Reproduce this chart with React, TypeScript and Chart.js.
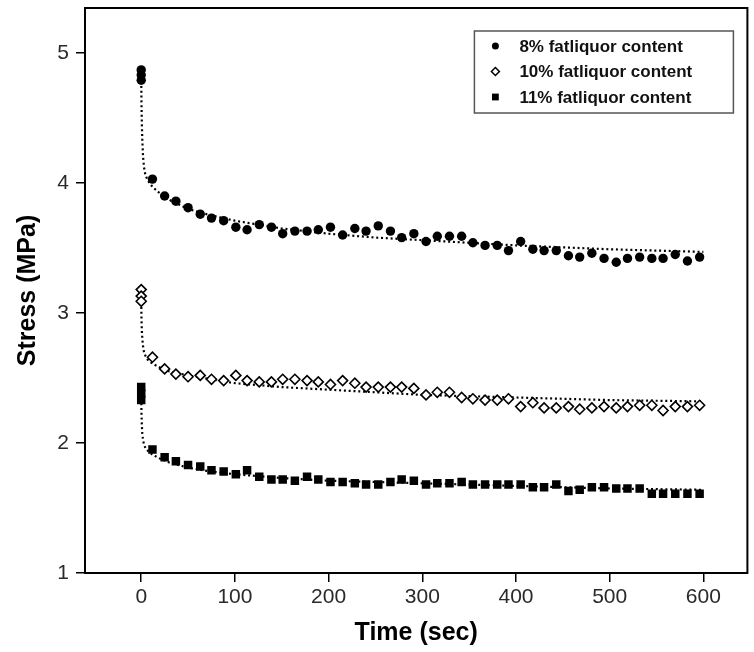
import React, { useEffect, useRef } from 'react';
import { Chart, registerables } from 'chart.js';

Chart.register(...registerables);

// ---- data ----
const times = [12, 25, 37, 50, 63, 75, 88, 101, 113, 126, 139, 151, 164, 177, 189, 202, 215, 228, 240, 253, 266, 278, 291, 304, 316, 329, 342, 354, 367, 380, 392, 405, 418, 430, 443, 456, 468, 481, 494, 507, 519, 532, 545, 557, 570, 583, 596];

const stress8 = [4.03, 3.90, 3.86, 3.81, 3.76, 3.73, 3.71, 3.66, 3.64, 3.68, 3.66, 3.61, 3.63, 3.63, 3.64, 3.66, 3.60, 3.65, 3.63, 3.67, 3.63, 3.58, 3.61, 3.55, 3.59, 3.59, 3.59, 3.54, 3.52, 3.52, 3.48, 3.55, 3.49, 3.48, 3.48, 3.44, 3.43, 3.46, 3.42, 3.39, 3.42, 3.43, 3.42, 3.42, 3.45, 3.40, 3.43];
const stress10 = [2.66, 2.57, 2.53, 2.51, 2.52, 2.49, 2.48, 2.52, 2.48, 2.47, 2.47, 2.49, 2.49, 2.48, 2.47, 2.45, 2.48, 2.46, 2.43, 2.43, 2.43, 2.43, 2.42, 2.37, 2.39, 2.39, 2.35, 2.34, 2.33, 2.33, 2.34, 2.28, 2.31, 2.27, 2.27, 2.28, 2.26, 2.27, 2.28, 2.27, 2.28, 2.29, 2.29, 2.25, 2.28, 2.28, 2.29];
const stress11 = [1.95, 1.89, 1.86, 1.83, 1.82, 1.79, 1.78, 1.76, 1.79, 1.74, 1.72, 1.72, 1.71, 1.74, 1.72, 1.70, 1.70, 1.69, 1.68, 1.68, 1.70, 1.72, 1.71, 1.68, 1.69, 1.69, 1.70, 1.68, 1.68, 1.68, 1.68, 1.68, 1.66, 1.66, 1.68, 1.63, 1.64, 1.66, 1.66, 1.65, 1.65, 1.65, 1.61, 1.61, 1.61, 1.61, 1.61];

// repeated readings at t = 0
const start8 = [4.87, 4.83, 4.79];
const start10 = [3.18, 3.13, 3.09];
const start11 = [2.43, 2.38, 2.33];

// dotted fitted curves
const fitTimes = [0, 0.3, 0.7, 1.2, 2, 3, 4.5, 7, 12, 20, 30, 50, 75, 100, 150, 200, 250, 300, 400, 500, 600];
const fit8 = [4.82, 4.6, 4.45, 4.32, 4.2, 4.12, 4.06, 4.02, 3.97, 3.92, 3.87, 3.8, 3.75, 3.71, 3.65, 3.61, 3.58, 3.56, 3.52, 3.49, 3.47];
const fit10 = [3.12, 2.95, 2.86, 2.8, 2.74, 2.7, 2.67, 2.64, 2.61, 2.58, 2.55, 2.52, 2.49, 2.46, 2.43, 2.41, 2.39, 2.37, 2.35, 2.33, 2.32];
const fit11 = [2.38, 2.22, 2.13, 2.07, 2.02, 1.99, 1.96, 1.94, 1.91, 1.88, 1.85, 1.81, 1.78, 1.76, 1.73, 1.71, 1.7, 1.69, 1.67, 1.65, 1.64];

const xTicks = [0, 100, 200, 300, 400, 500, 600];
const yTicks = [1, 2, 3, 4, 5];
const seriesLabels = ['8% fatliquor content', '10% fatliquor content', '11% fatliquor content'];
const xTitle = 'Time (sec)';
const yTitle = 'Stress (MPa)';

const FONT = '"Liberation Sans", Arial, Helvetica, sans-serif';

function toPoints(xs: number[], ys: number[]) {
  return ys.map((y, i) => ({ x: xs[i], y }));
}
function startPoints(ys: number[]) {
  return ys.map((y) => ({ x: 0, y }));
}

function zeroPadding(s: any) {
  s.paddingTop = 0;
  s.paddingBottom = 0;
  s.paddingLeft = 0;
  s.paddingRight = 0;
}

const framePlugin = {
  id: 'frameBox',
  afterDraw(chart: any) {
    const { ctx, chartArea } = chart;
    ctx.save();
    ctx.strokeStyle = '#000';
    ctx.lineWidth = 2;
    ctx.strokeRect(chartArea.left, chartArea.top, chartArea.right - chartArea.left, chartArea.bottom - chartArea.top);
    ctx.restore();
  },
};

const legendPlugin = {
  id: 'boxLegend',
  afterDraw(chart: any) {
    const { ctx, chartArea } = chart;
    const w = 259;
    const h = 82;
    const x0 = chartArea.right - 14 - w;
    const y0 = chartArea.top + 23;
    ctx.save();
    ctx.strokeStyle = '#555';
    ctx.lineWidth = 1.5;
    ctx.strokeRect(x0, y0, w, h);
    ctx.font = 'bold 17px ' + FONT;
    ctx.textBaseline = 'middle';
    ctx.textAlign = 'left';
    seriesLabels.forEach((label, i) => {
      const cy = y0 + 15 + i * 25.5;
      const mx = x0 + 21;
      ctx.fillStyle = '#000';
      ctx.strokeStyle = '#000';
      if (i === 0) {
        ctx.beginPath();
        ctx.arc(mx, cy, 3.5, 0, Math.PI * 2);
        ctx.fill();
      } else if (i === 1) {
        ctx.beginPath();
        ctx.moveTo(mx, cy - 4);
        ctx.lineTo(mx + 4, cy);
        ctx.lineTo(mx, cy + 4);
        ctx.lineTo(mx - 4, cy);
        ctx.closePath();
        ctx.fillStyle = '#fff';
        ctx.fill();
        ctx.lineWidth = 1.5;
        ctx.stroke();
      } else {
        ctx.fillRect(mx - 3.4, cy - 3.4, 6.8, 6.8);
      }
      ctx.fillStyle = '#111';
      ctx.fillText(label, x0 + 45, cy + 1);
    });
    ctx.restore();
  },
};

export default function App() {
  const canvasRef = useRef<HTMLCanvasElement | null>(null);

  useEffect(() => {
    const canvas = canvasRef.current;
    if (!canvas) return;

    const fitStyle = {
      type: 'scatter' as const,
      showLine: true,
      borderColor: '#000',
      borderWidth: 2.2,
      borderDash: [2, 2.8],
      pointRadius: 0,
      fill: false,
    };

    const chart = new Chart(canvas, {
      type: 'scatter',
      data: {
        datasets: [
          {
            label: seriesLabels[0],
            data: [...startPoints(start8), ...toPoints(times, stress8)],
            pointStyle: 'circle',
            pointRadius: 4.7,
            backgroundColor: '#000',
            borderColor: '#000',
            borderWidth: 0,
          },
          {
            label: seriesLabels[1],
            data: [...startPoints(start10), ...toPoints(times, stress10)],
            pointStyle: 'rectRot',
            pointRadius: 5,
            backgroundColor: '#fff',
            borderColor: '#000',
            borderWidth: 1.6,
          },
          {
            label: seriesLabels[2],
            data: [...startPoints(start11), ...toPoints(times, stress11)],
            pointStyle: 'rect',
            pointRadius: 6,
            backgroundColor: '#000',
            borderColor: '#000',
            borderWidth: 0,
          },
          { ...fitStyle, label: 'fit8', data: toPoints(fitTimes, fit8) },
          { ...fitStyle, label: 'fit10', data: toPoints(fitTimes, fit10) },
          { ...fitStyle, label: 'fit11', data: toPoints(fitTimes, fit11) },
        ] as any,
      },
      options: {
        animation: false,
        responsive: false,
        layout: { padding: { left: 0, top: 8, right: 3, bottom: 0 } },
        plugins: {
          legend: { display: false },
          tooltip: { enabled: false },
        },
        scales: {
          x: {
            type: 'linear',
            min: -60,
            max: 647,
            afterBuildTicks: (s: any) => {
              s.ticks = xTicks.map((v) => ({ value: v }));
            },
            afterFit: (s: any) => {
              s.height = 79;
              zeroPadding(s);
            },
            grid: { drawOnChartArea: false, drawTicks: true, tickLength: 9, color: '#000', lineWidth: 1.5 },
            border: { display: false },
            ticks: { font: { size: 21, family: FONT }, color: '#2a2a2a', padding: 3, maxRotation: 0 },
            title: {
              display: true,
              text: xTitle,
              color: '#000',
              font: { size: 25, weight: 'bold', family: FONT },
              padding: { top: 0, bottom: 4 },
            },
          },
          y: {
            type: 'linear',
            min: 1,
            max: 5.346,
            afterBuildTicks: (s: any) => {
              s.ticks = yTicks.map((v) => ({ value: v }));
            },
            afterFit: (s: any) => {
              s.width = 85;
              zeroPadding(s);
            },
            grid: { drawOnChartArea: false, drawTicks: true, tickLength: 9, color: '#000', lineWidth: 1.5 },
            border: { display: false },
            ticks: { font: { size: 21, family: FONT }, color: '#2a2a2a', padding: 7 },
            title: {
              display: true,
              text: yTitle,
              color: '#000',
              font: { size: 25, weight: 'bold', family: FONT },
              padding: { top: 13, bottom: 0 },
            },
          },
        },
      } as any,
      plugins: [framePlugin, legendPlugin],
    });

    return () => chart.destroy();
  }, []);

  return (
    <div style={{ position: 'fixed', left: 0, top: 0, width: 754, height: 652, background: '#fff' }}>
      <canvas ref={canvasRef} width={754} height={652} style={{ display: 'block' }} />
    </div>
  );
}
